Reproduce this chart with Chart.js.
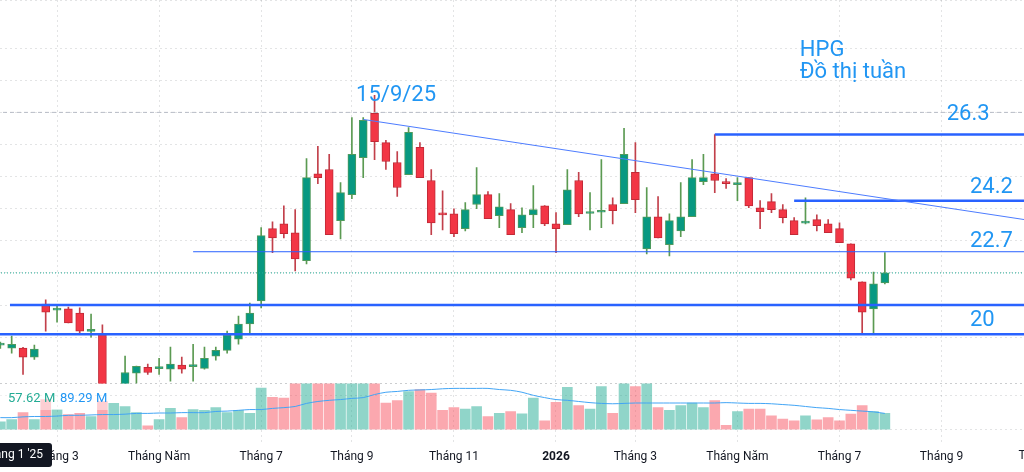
<!DOCTYPE html>
<html>
<head>
<meta charset="utf-8">
<script src="https://cdn.jsdelivr.net/npm/chart.js@4.4.1/dist/chart.umd.min.js"></script>
<style>
  html, body { margin: 0; padding: 0; background: #fff; }
  #wrap { width: 1024px; height: 472px; position: relative; }
</style>
</head>
<body>
<div id="wrap"><canvas id="hpgChart"></canvas></div>
<script>
// HPG weekly candles, Jan 2025 -> Aug 2026 (one entry per weekly bar, Tet weeks skipped)
const opens = [
    19.75, 19.66, 19.66, 19.38, 21.03, 20.84, 20.88, 20.75, 20.18, 20.09,
    17.95, 18.40, 18.88, 19.06, 19.02, 19.00, 19.13, 19.08, 19.03, 19.41,
    19.59, 19.94, 20.41, 21.13, 23.38, 23.53, 23.25, 22.38, 25.09, 25.22,
    23.63, 24.44, 25.59, 26.97, 26.06, 25.44, 25.06, 25.91, 24.88, 23.84,
    23.84, 23.38, 24.13, 24.44, 23.78, 23.97, 23.41, 23.81, 24.09, 23.53,
    23.50, 24.88, 23.85, 23.89, 24.13, 24.16, 25.13, 22.75, 23.75, 22.88,
    23.31, 23.75, 24.84, 25.09, 24.80, 24.75, 24.97, 24.03, 24.22, 23.97,
    23.63, 23.55, 23.66, 23.53, 23.38, 22.91, 21.72, 20.88, 21.69
];
const highs = [
    19.85, 20.03, 19.68, 19.75, 21.16, 20.97, 20.94, 20.91, 20.72, 20.38,
    18.45, 19.41, 19.10, 19.16, 19.34, 19.69, 19.38, 19.78, 19.69, 19.69,
    20.19, 20.66, 21.06, 23.41, 23.59, 24.09, 23.97, 25.56, 25.94, 25.69,
    24.81, 26.84, 26.84, 27.53, 26.13, 25.78, 26.53, 26.06, 25.22, 24.56,
    24.00, 24.19, 25.28, 24.53, 24.47, 24.16, 24.03, 24.72, 24.10, 23.88,
    25.22, 25.13, 24.50, 25.53, 24.34, 26.50, 26.06, 24.66, 24.38, 23.84,
    24.81, 25.53, 25.69, 26.31, 24.94, 24.97, 24.97, 24.25, 24.47, 24.13,
    23.72, 24.34, 23.81, 23.66, 23.56, 22.91, 21.72, 22.03, 22.63
];
const lows = [
    19.65, 19.50, 18.84, 19.31, 20.19, 20.47, 20.44, 20.09, 20.00, 17.80,
    17.70, 18.30, 18.56, 18.84, 18.84, 18.63, 18.88, 18.63, 19.00, 19.28,
    19.50, 19.78, 20.09, 20.91, 22.63, 23.09, 22.06, 22.28, 24.78, 23.19,
    23.06, 24.31, 24.97, 25.53, 25.22, 24.38, 25.06, 24.97, 23.19, 23.34,
    23.13, 23.31, 24.00, 23.69, 23.41, 23.19, 23.25, 23.41, 23.47, 22.63,
    23.50, 23.75, 23.34, 23.41, 23.53, 24.16, 23.88, 22.59, 23.09, 22.53,
    23.13, 23.75, 24.75, 24.50, 24.63, 24.25, 24.03, 23.38, 23.88, 23.56,
    23.19, 23.53, 23.31, 23.25, 22.94, 21.78, 20.13, 20.09, 21.66
];
const closes = [
    19.76, 19.78, 19.38, 19.63, 20.78, 20.85, 20.44, 20.19, 20.20, 18.00,
    18.35, 18.90, 19.09, 18.90, 19.04, 19.16, 19.00, 19.10, 19.34, 19.59,
    20.06, 20.41, 20.75, 23.16, 23.09, 23.22, 22.44, 24.97, 24.97, 23.19,
    24.50, 25.69, 26.75, 26.09, 25.47, 24.66, 26.38, 24.97, 23.56, 23.81,
    23.22, 23.97, 24.44, 23.69, 24.06, 23.19, 23.81, 23.97, 23.53, 23.38,
    24.59, 23.84, 23.88, 23.91, 23.94, 25.69, 24.28, 23.75, 23.09, 23.63,
    23.75, 24.97, 24.97, 24.88, 24.78, 24.81, 24.09, 23.91, 23.97, 23.72,
    23.19, 23.58, 23.47, 23.25, 22.94, 21.84, 20.78, 21.66, 22.00
];
// weekly volume and its moving average, millions of shares
const volumes = [
    20, 26, 44, 26, 78, 52, 39, 42, 34, 73,
    68, 60, 44, 10, 26, 55, 31, 52, 50, 57,
    44, 50, 42, 108, 84, 82, 125, 130, 125, 135,
    120, 140, 128, 150, 69, 75, 99, 104, 95, 50,
    57, 53, 60, 34, 42, 47, 41, 82, 23, 71,
    110, 62, 53, 112, 42, 125, 112, 125, 57, 50,
    62, 69, 57, 75, 11, 47, 53, 53, 36, 27,
    23, 36, 25, 31, 23, 40, 62, 47, 42
];
const volumeMA = [
    31, 31, 33, 34, 34, 35, 37, 37, 38, 39,
    39, 40, 42, 42, 43, 43, 44, 44, 44, 47,
    48, 50, 52, 52, 55, 57, 60, 68, 73, 76,
    78, 81, 83, 91, 97, 99, 102, 103, 104, 106,
    107, 107, 107, 107, 104, 102, 97, 89, 83, 78,
    76, 73, 70, 68, 67, 68, 69, 69, 69, 69,
    69, 69, 69, 69, 70, 69, 68, 68, 67, 65,
    63, 60, 57, 55, 52, 50, 48, 46, 42
];

// time axis: bar index of the first bar of each month
const monthTicks = [5, 14, 23, 31, 40, 49, 56, 65, 74, 83];
const monthLabels = ['Tháng 3', 'Tháng Năm', 'Tháng 7', 'Tháng 9', 'Tháng 11', '2026', 'Tháng 3', 'Tháng Năm', 'Tháng 7', 'Tháng 9'];

// drawn support / resistance levels (price, starting bar)
const levelPrices = [26.31, 24.25, 22.66, 21.0, 20.09];
const levelStarts = [63, 70, 17, 0.85, -1];
const levelWidths = [2.5, 2.5, 1, 2.5, 2.5];
// descending trend line from the 15/9/25 top
const trendX = [32, 95];
const trendY = [26.78, 23.41];

const GREEN = '#089981', RED = '#f23645';
const up = opens.map((o, i) => closes[i] >= o);
const idx = opens.map((_, i) => i);
const gridColor = 'rgba(42,46,57,0.13)';

const datasets = [
    {
        type: 'bar', label: 'Volume', yAxisID: 'y2', order: 10, grouped: false,
        data: idx.map(i => ({ x: i, y: volumes[i] })),
        backgroundColor: up.map(u => u ? 'rgba(34,171,148,0.5)' : 'rgba(247,82,95,0.5)'),
        barThickness: 10,
    },
    {
        type: 'line', label: 'Vol MA', yAxisID: 'y2', order: 9,
        data: idx.map(i => ({ x: i, y: volumeMA[i] })),
        borderColor: '#42a5f5', borderWidth: 1, pointRadius: 0, tension: 0.3,
    },
    {
        type: 'bar', label: 'Wick', yAxisID: 'y', order: 4, grouped: false,
        data: idx.map(i => ({ x: i, y: [lows[i], highs[i]] })),
        backgroundColor: up.map(u => u ? '#5b9a52' : '#c2404b'),
        barThickness: 1,
    },
    {
        type: 'bar', label: 'Body', yAxisID: 'y', order: 3, grouped: false,
        data: idx.map(i => ({ x: i, y: [opens[i], closes[i]] })),
        backgroundColor: up.map(u => u ? GREEN : RED),
        borderColor: up.map(u => u ? '#4f9a5c' : '#c22a37'),
        borderWidth: 1, borderSkipped: false,
        barThickness: 8, minBarLength: 2,
    },
    {
        type: 'line', label: 'Trend', yAxisID: 'y', order: 1,
        data: trendX.map((x, k) => ({ x: x, y: trendY[k] })),
        borderColor: '#4d7cff', borderWidth: 1, pointRadius: 0,
    },
    {
        type: 'line', label: 'High', yAxisID: 'y', order: 2,
        data: [{ x: -1, y: 27 }, { x: 95, y: 27 }],
        borderColor: '#b8bcc6', borderWidth: 1, borderDash: [4, 3], pointRadius: 0,
    },
    {
        type: 'line', label: 'Last', yAxisID: 'y', order: 2,
        data: [{ x: -1, y: closes[closes.length - 1] }, { x: 95, y: closes[closes.length - 1] }],
        borderColor: '#22ab94', borderWidth: 1, borderDash: [1, 2], pointRadius: 0,
    },
];
levelPrices.forEach((p, k) => {
    datasets.push({
        type: 'line', label: 'Level ' + p, yAxisID: 'y', order: 1,
        data: [{ x: levelStarts[k], y: p }, { x: 95, y: p }],
        borderColor: '#2962ff', borderWidth: levelWidths[k], pointRadius: 0,
    });
});

// annotation texts placed in data space: [text, bar index, price, align]
const notes = [
    ['15/9/25', 34.9, 27.34, 'center'],
    ['HPG', 70.5, 28.75, 'left'],
    ['Đồ thị tuần', 70.5, 28.06, 'left'],
    ['26.3', 83.45, 26.75, 'left'],
    ['24.2', 85.5, 24.5, 'left'],
    ['22.7', 85.5, 22.81, 'left'],
    ['20', 85.5, 20.34, 'left'],
];

const annotate = {
    id: 'annotate',
    afterDatasetsDraw(chart) {
        const { ctx, scales: { x, y } } = chart;
        ctx.save();
        ctx.fillStyle = '#2196f3';
        ctx.font = '22px Roboto, sans-serif';
        ctx.textBaseline = 'alphabetic';
        notes.forEach(([t, xi, p, al]) => {
            ctx.textAlign = al;
            ctx.fillText(t, x.getPixelForValue(xi), y.getPixelForValue(p));
        });
        // volume legend
        ctx.fillStyle = 'rgba(255,255,255,0.45)';
        ctx.fillRect(0, 387, 108, 23);
        ctx.font = '13px Roboto, sans-serif';
        ctx.textAlign = 'left';
        ctx.textBaseline = 'middle';
        ctx.fillStyle = '#22ab94';
        ctx.fillText('57.62 M', 8, 399);
        ctx.fillStyle = '#2196f3';
        ctx.fillText('89.29 M', 60, 399);
        ctx.restore();
    },
    afterDraw(chart) {
        const { ctx, scales: { x } } = chart;
        ctx.save();
        ctx.font = '12px Roboto, sans-serif';
        ctx.textBaseline = 'middle';
        ctx.textAlign = 'center';
        ctx.fillStyle = '#131722';
        ctx.fillText('Tháng 11', x.getPixelForValue(92), 456);
        // crosshair time label
        ctx.fillStyle = '#131722';
        ctx.beginPath();
        ctx.roundRect(-40, 443, 92, 24, 3);
        ctx.fill();
        ctx.fillStyle = '#ffffff';
        ctx.fillText("Tháng 1 '25", 12, 455);
        ctx.restore();
    }
};

const boldTick = c => c.tick && monthLabels[monthTicks.indexOf(c.tick.value)] === '2026';

const hpgChart = new Chart(document.getElementById('hpgChart'), {
    type: 'bar',
    data: { datasets: datasets },
    plugins: [annotate],
    options: {
        responsive: true,
        maintainAspectRatio: false,
        animation: false,
        layout: { padding: { left: 0, right: 0, top: 0, bottom: 0 } },
        plugins: { legend: { display: false }, tooltip: { enabled: false } },
        scales: {
            x: {
                type: 'linear', min: -0.03, max: 90.27, offset: false,
                afterBuildTicks: s => { s.ticks = monthTicks.map(v => ({ value: v })); },
                ticks: {
                    autoSkip: false, maxRotation: 0, padding: 8, color: '#131722',
                    font: c => ({ family: 'Roboto, sans-serif', size: 12, weight: boldTick(c) ? 'bold' : 'normal' }),
                    callback: v => monthLabels[monthTicks.indexOf(v)],
                },
                grid: { color: gridColor, drawTicks: false, offset: false },
                border: { display: false, dash: [2, 3] },
            },
            y: {
                type: 'linear', position: 'left', stack: 'pane', stackWeight: 382, weight: 1,
                min: 18.56, max: 30.5,
                ticks: { display: false, stepSize: 1 },
                grid: { color: gridColor, drawTicks: false },
                border: { display: false, dash: [2, 3] },
            },
            y2: {
                type: 'linear', position: 'left', stack: 'pane', stackWeight: 58, weight: 0,
                min: -31.3, max: 120,
                afterBuildTicks: s => { s.ticks = [{ value: 0 }, { value: 88 }, { value: 120 }]; },
                ticks: { display: false },
                grid: { color: gridColor, drawTicks: false },
                border: { display: false, dash: [2, 3] },
            },
        },
    },
});
</script>
</body>
</html>
